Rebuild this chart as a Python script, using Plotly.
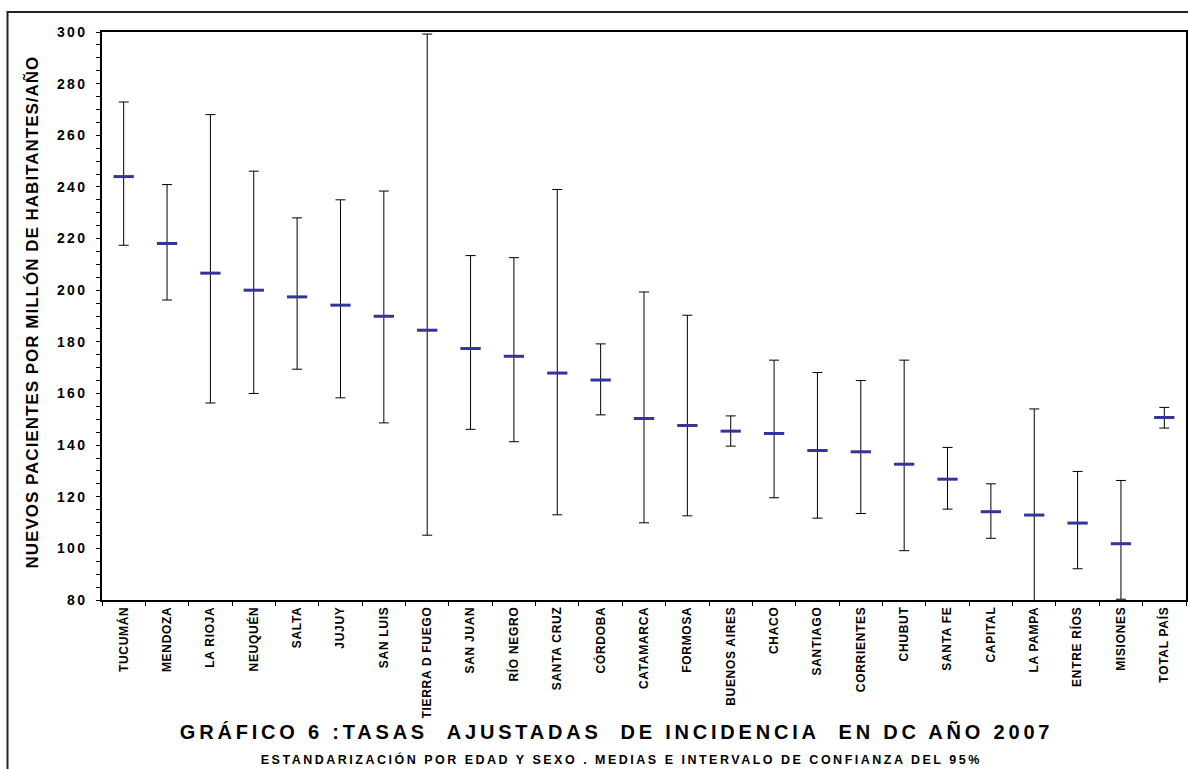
import plotly.graph_objects as go

provinces = ["TUCUMÁN", "MENDOZA", "LA RIOJA", "NEUQUÉN", "SALTA", "JUJUY", "SAN LUIS",
             "TIERRA D FUEGO", "SAN JUAN", "RÍO NEGRO", "SANTA CRUZ", "CÓRDOBA", "CATAMARCA",
             "FORMOSA", "BUENOS AIRES", "CHACO", "SANTIAGO", "CORRIENTES", "CHUBUT", "SANTA FE",
             "CAPITAL", "LA PAMPA", "ENTRE RÍOS", "MISIONES", "TOTAL PAÍS"]
rate_mean = [244.0, 218.1, 206.6, 200.0, 197.4, 194.2, 189.9, 184.5, 177.4, 174.4, 167.9, 165.2,
             150.3, 147.6, 145.4, 144.5, 137.9, 137.4, 132.6, 126.8, 114.2, 112.9, 109.8, 101.8, 150.7]
ci_upper = [272.9, 240.9, 268.0, 246.1, 228.0, 235.0, 238.4, 299.2, 213.4, 212.6, 239.0, 179.2,
            199.3, 190.3, 151.3, 172.9, 168.1, 165.0, 172.9, 139.1, 125.0, 154.0, 129.8, 126.3, 154.6]
ci_lower = [217.4, 196.2, 156.3, 160.0, 169.4, 158.3, 148.6, 105.1, 146.1, 141.3, 113.0, 151.7,
            109.9, 112.6, 139.6, 119.6, 111.7, 113.5, 99.1, 115.2, 103.9, 78.0, 92.1, 80.3, 146.6]
y_ticks = [80, 100, 120, 140, 160, 180, 200, 220, 240, 260, 280, 300]

title_text = "GRÁFICO 6 :TASAS\u00a0\u00a0AJUSTADAS\u00a0\u00a0DE INCIDENCIA\u00a0\u00a0EN DC AÑO 2007"
subtitle_text = "ESTANDARIZACIÓN POR EDAD Y SEXO . MEDIAS E INTERVALO DE CONFIANZA DEL 95%"
ytitle_text = "NUEVOS PACIENTES POR MILLÓN DE HABITANTES/AÑO"

err_plus = [u - m for u, m in zip(ci_upper, rate_mean)]
err_minus = [m - l for m, l in zip(rate_mean, ci_lower)]

W, H = 1188, 769
L, R, T, B = 102, 2, 32, 169
PW, PH = W - L - R, H - T - B


def px_x(p):
    return (p - L) / PW


def px_y(p):
    return (H - B - p) / PH


FONT = "Liberation Sans, Arial, sans-serif"

fig = go.Figure()
fig.add_trace(go.Scatter(
    x=provinces, y=rate_mean, mode="markers",
    marker=dict(symbol="line-ew", size=14.5, color="#333399",
                line=dict(width=3, color="#333399")),
    error_y=dict(type="data", symmetric=False, array=err_plus, arrayminus=err_minus,
                 color="black", thickness=1, width=5),
    showlegend=False, hoverinfo="x+y",
))
fig.add_hline(y=rate_mean[-1], line=dict(color="black", width=1))

fig.update_layout(
    width=W, height=H,
    margin=dict(l=L, r=R, t=T, b=B, autoexpand=False),
    paper_bgcolor="white", plot_bgcolor="white",
    font=dict(family=FONT, color="black"),
    xaxis=dict(
        type="category", range=[-0.5, len(provinces) - 0.5],
        showgrid=False, zeroline=False,
        showline=True, linecolor="black", linewidth=1.5, mirror=True,
        ticks="outside", ticklen=4, tickcolor="black", tickson="boundaries",
        tickangle=-90,
        tickfont=dict(family=FONT, size=12, weight=700, color="black"),
    ),
    xaxis2=dict(
        overlaying="x", matches="x", type="category", side="bottom",
        categoryorder="array", categoryarray=provinces,
        showgrid=False, zeroline=False, showline=False,
        ticks="inside", ticklen=5, tickcolor="black", tickson="boundaries",
        showticklabels=False,
    ),
    yaxis=dict(
        range=[80, 300], tickvals=y_ticks,
        showgrid=False, zeroline=False,
        showline=True, linecolor="black", linewidth=1.5, mirror=True,
        ticks="outside", ticklen=4, tickcolor="black",
        minor=dict(dtick=5, ticks="outside", ticklen=4, tickcolor="black"),
        tickfont=dict(family=FONT, size=14, weight=700, color="black"),
        ticklabelstandoff=6,
    ),
    annotations=[
        dict(text=title_text, xref="paper", yref="paper", x=px_x(616.5), y=px_y(732),
             xanchor="center", yanchor="middle", showarrow=False,
             font=dict(family=FONT, size=20, weight=700, color="black")),
        dict(text=subtitle_text, xref="paper", yref="paper", x=px_x(621), y=px_y(759),
             xanchor="center", yanchor="middle", showarrow=False,
             font=dict(family=FONT, size=12.5, weight=700, color="black")),
        dict(text=ytitle_text, xref="paper", yref="paper", x=px_x(32), y=px_y(312),
             xanchor="center", yanchor="middle", showarrow=False, textangle=-90,
             font=dict(family=FONT, size=17, weight=700, color="black")),
    ],
    shapes=[
        dict(type="rect", xref="paper", yref="paper",
             x0=px_x(7.5), x1=px_x(1194), y0=px_y(780), y1=px_y(12),
             line=dict(color="#222222", width=2), fillcolor="rgba(0,0,0,0)", layer="below"),
    ],
)

post = """
document.body.style.margin='0';
document.body.style.overflow='hidden';
var gd = document.getElementById('{plot_id}');
function spacing(){
  gd.querySelectorAll('.ytick text').forEach(function(t){ t.style.letterSpacing='2.4px'; });
  gd.querySelectorAll('.xtick text').forEach(function(t){ t.style.letterSpacing='0.7px'; });
  var sp = {'0':'3.8px','1':'2.5px','2':'1.0px'};
  Object.keys(sp).forEach(function(k){
    gd.querySelectorAll('g.annotation[data-index="'+k+'"] text').forEach(function(t){ t.style.letterSpacing=sp[k]; });
  });
}
spacing();
gd.on('plotly_afterplot', spacing);
"""

fig.write_html("out.html", post_script=post, config={"displayModeBar": False})
